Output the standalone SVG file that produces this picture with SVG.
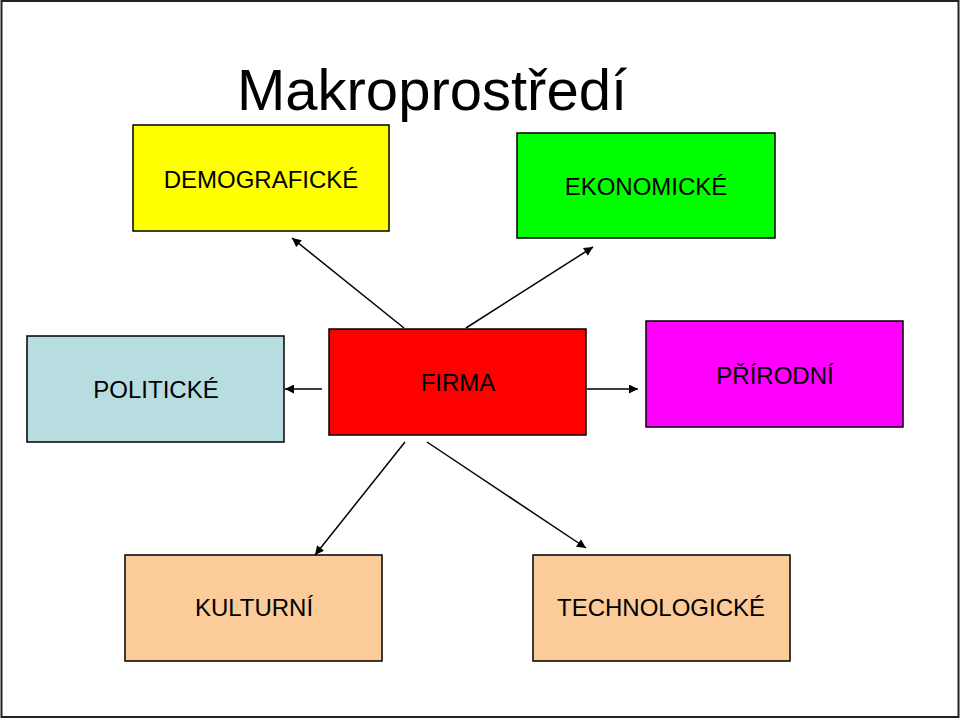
<svg xmlns="http://www.w3.org/2000/svg" width="960" height="719" viewBox="0 0 960 719">
<defs>
<marker id="ah" viewBox="0 0 10 10" refX="10" refY="5" markerWidth="10" markerHeight="9" markerUnits="userSpaceOnUse" orient="auto">
<path d="M0,0 L10,5 L0,10 z" fill="#000"/>
</marker>
<style>
.box{stroke:#000;stroke-width:1.5}
.lbl{font-family:"Liberation Sans",Arial,sans-serif;font-size:24px;fill:#000;text-anchor:middle}
.con{stroke:#000;stroke-width:1.5;fill:none;marker-end:url(#ah)}
</style>
</defs>
<rect x="0" y="0" width="960" height="719" fill="#fff"/>
<rect x="1.5" y="1" width="957" height="716" fill="none" stroke="#222" stroke-width="2"/>
<text x="432" y="110" style="font-family:'Liberation Sans',Arial,sans-serif;font-size:58px;text-anchor:middle;fill:#000">Makroprostředí</text>
<g id="demograficke"><rect class="box" x="133" y="125" width="256" height="106" fill="#ffff00"/><text class="lbl" x="261" y="188">DEMOGRAFICKÉ</text></g>
<g id="ekonomicke"><rect class="box" x="517" y="133" width="258" height="105" fill="#00ff00"/><text class="lbl" x="646" y="195">EKONOMICKÉ</text></g>
<g id="politicke"><rect class="box" x="27" y="336" width="257" height="106" fill="#b7dde1"/><text class="lbl" x="156" y="398">POLITICKÉ</text></g>
<g id="firma"><rect class="box" x="329" y="329" width="257" height="106" fill="#ff0000"/><text class="lbl" x="458" y="391">FIRMA</text></g>
<g id="prirodni"><rect class="box" x="646" y="321" width="257" height="106" fill="#ff00ff"/><text class="lbl" x="775" y="384">PŘÍRODNÍ</text></g>
<g id="kulturni"><rect class="box" x="125" y="555" width="257" height="106" fill="#fccb9a"/><text class="lbl" x="254" y="616">KULTURNÍ</text></g>
<g id="technologicke"><rect class="box" x="533" y="555" width="257" height="106" fill="#fccb9a"/><text class="lbl" x="661" y="616">TECHNOLOGICKÉ</text></g>
<g id="connectors">
<line class="con" x1="404" y1="328" x2="292" y2="238"/>
<line class="con" x1="466" y1="328" x2="593" y2="247"/>
<line class="con" x1="322" y1="389" x2="285" y2="389"/>
<line class="con" x1="587" y1="389" x2="638" y2="389"/>
<line class="con" x1="405" y1="442" x2="315" y2="555"/>
<line class="con" x1="427" y1="442" x2="586" y2="548"/>
</g>
</svg>
